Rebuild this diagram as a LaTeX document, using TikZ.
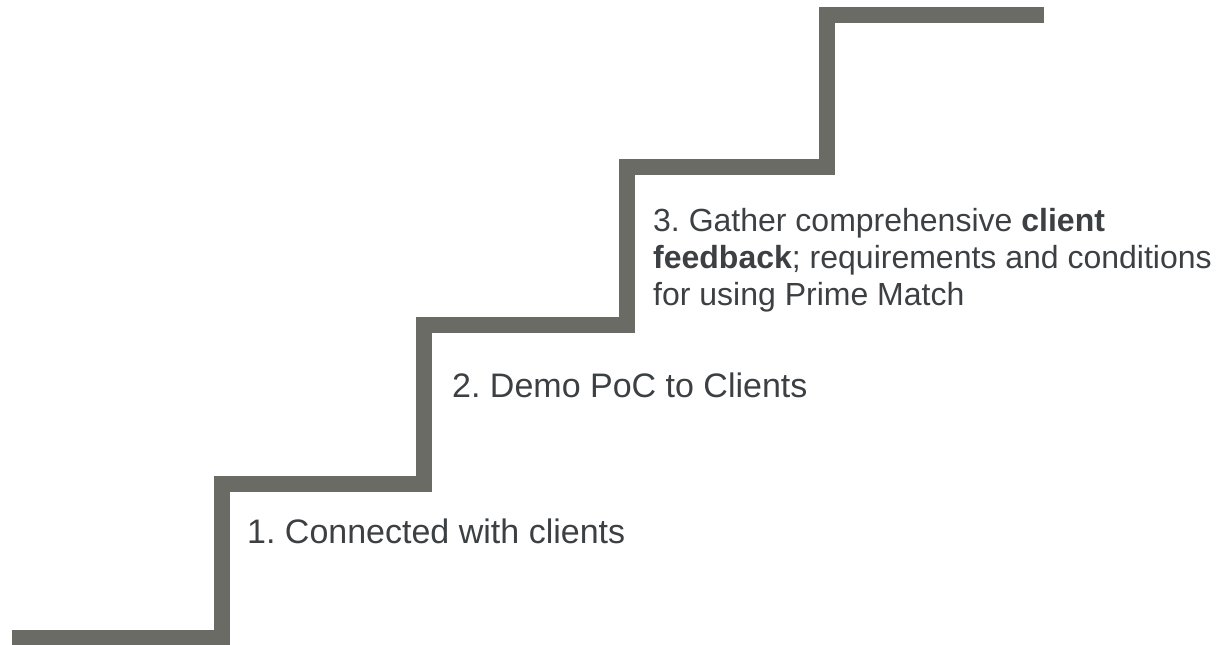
\documentclass[tikz,border=0pt]{standalone}
\usepackage{fontspec}
\setmainfont{Liberation Sans}
\frenchspacing
\definecolor{stairgray}{HTML}{6B6B65}
\definecolor{steptext}{HTML}{3C4043}
\begin{document}
\begin{tikzpicture}[x=1pt,y=-1pt,
  stair/.style={draw=stairgray,line width=16pt,line join=miter,line cap=butt},
  steplabel/.style={anchor=base west,inner sep=0pt,text=steptext,align=left,
    font=\fontsize{34}{36.8}\selectfont},
  smalllabel/.style={steplabel,font=\fontsize{32}{36.8}\selectfont}]
  \useasboundingbox (0,0) rectangle (1216,645);
  % corner points of the staircase
  \coordinate (s0) at (12,638);
  \coordinate (s1) at (222,638);
  \coordinate (s2) at (222,484);
  \coordinate (s3) at (424,484);
  \coordinate (s4) at (424,325);
  \coordinate (s5) at (627,325);
  \coordinate (s6) at (627,167);
  \coordinate (s7) at (827,167);
  \coordinate (s8) at (827,15);
  \coordinate (s9) at (1044,15);
  \draw[stair] (s0) -- (s1) -- (s2) -- (s3) -- (s4) -- (s5) -- (s6) -- (s7) -- (s8) -- (s9);
  % step labels (a multi-line label sits on the baseline of its last line)
  \node[steplabel] (one) at (247,543) {1. Connected with clients};
  \node[steplabel] (two) at (452,397) {2. Demo PoC to Clients};
  \node[smalllabel] (three) at (653,305) {3. Gather comprehensive \textbf{client}\\
    \textbf{feedback}; requirements and conditions\\for using Prime Match};
\end{tikzpicture}
\end{document}
